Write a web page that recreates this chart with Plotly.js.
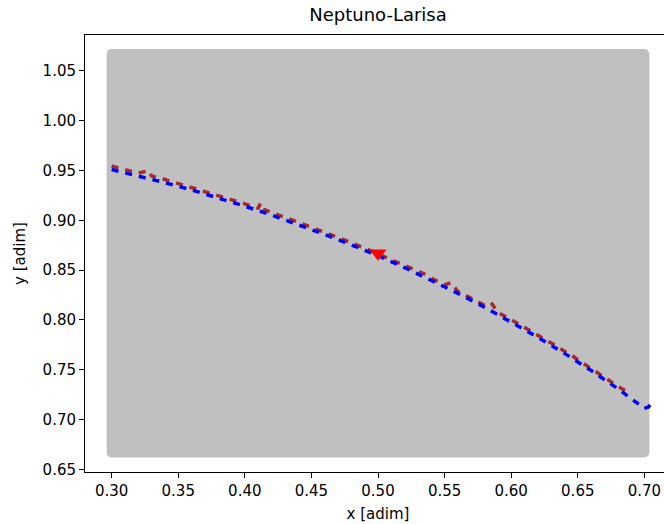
<!DOCTYPE html>
<html>
<head>
<meta charset="utf-8">
<script src="https://cdn.plot.ly/plotly-3.0.1.min.js"></script>
<style>
  html, body { margin: 0; padding: 0; overflow: hidden; background: #fff; }
  #chart { width: 680px; height: 524px; }
  /* rounded joins so the filled region gets soft corners */
  .scatterlayer path.js-line { stroke-linejoin: round; }
</style>
</head>
<body>
<div id="chart"></div>
<script>
// Search region (sampled grid bounds); outline starts mid-edge so every corner is a join
const regionX = [0.50, 0.70, 0.70, 0.30, 0.30, 0.50];
const regionY = [0.667, 0.667, 1.067, 1.067, 0.667, 0.667];

// Blue trajectory
const blueX = [0.300, 0.320, 0.340, 0.360, 0.380, 0.400, 0.420, 0.440, 0.460, 0.480,
               0.500, 0.520, 0.540, 0.560, 0.580, 0.600, 0.620, 0.640, 0.660, 0.680,
               0.690, 0.697, 0.700, 0.703, 0.705];
const blueY = [0.9510, 0.9447, 0.9378, 0.9305, 0.9226, 0.9142, 0.9053, 0.8958, 0.8858, 0.8753,
               0.8645, 0.8525, 0.8400, 0.8267, 0.8128, 0.7980, 0.7826, 0.7664, 0.7493, 0.7310,
               0.7215, 0.7140, 0.7112, 0.7125, 0.7160];

// Brown trajectory
const brownX = [0.300, 0.310, 0.320, 0.328, 0.330, 0.340, 0.350, 0.360, 0.370, 0.380,
                0.390, 0.400, 0.410, 0.412, 0.415, 0.420, 0.430, 0.440, 0.450, 0.460,
                0.470, 0.475, 0.480, 0.490, 0.500, 0.510, 0.520, 0.530, 0.535, 0.540,
                0.550, 0.555, 0.560, 0.570, 0.580, 0.585, 0.590, 0.600, 0.610, 0.620,
                0.630, 0.640, 0.645, 0.650, 0.655, 0.660, 0.670, 0.680, 0.688];
const brownY = [0.9545, 0.9510, 0.9475, 0.9500, 0.9445, 0.9410, 0.9370, 0.9330, 0.9290, 0.9252,
                0.9210, 0.9166, 0.9122, 0.9175, 0.9105, 0.9078, 0.9030, 0.8982, 0.8932, 0.8880,
                0.8828, 0.8805, 0.8775, 0.8720, 0.8662, 0.8605, 0.8545, 0.8482, 0.8460, 0.8418,
                0.8352, 0.8375, 0.8286, 0.8218, 0.8148, 0.8172, 0.8075, 0.8002, 0.7926, 0.7848,
                0.7768, 0.7686, 0.7650, 0.7600, 0.7555, 0.7515, 0.7420, 0.7335, 0.7272];

// Reference point
const markX = [0.50];
const markY = [0.867];

// Tick labels
const xTickVals = [0.30, 0.35, 0.40, 0.45, 0.50, 0.55, 0.60, 0.65, 0.70];
const xTickText = ['0.30', '0.35', '0.40', '0.45', '0.50', '0.55', '0.60', '0.65', '0.70'];
const yTickVals = [0.65, 0.70, 0.75, 0.80, 0.85, 0.90, 0.95, 1.00, 1.05];
const yTickText = ['0.65', '0.70', '0.75', '0.80', '0.85', '0.90', '0.95', '1.00', '1.05'];

const FONT = 'DejaVu Sans, sans-serif';

const traces = [
  {
    x: regionX, y: regionY, type: 'scatter', mode: 'lines',
    fill: 'toself', fillcolor: '#c0c0c0',
    line: { color: '#c0c0c0', width: 10 },
    hoverinfo: 'skip', showlegend: false
  },
  {
    x: brownX, y: brownY, type: 'scatter', mode: 'lines',
    line: { color: '#a52a2a', width: 3.5, dash: '7px,7px' },
    showlegend: false
  },
  {
    x: blueX, y: blueY, type: 'scatter', mode: 'lines',
    line: { color: '#0000ff', width: 3.5, dash: '7px,7px' },
    showlegend: false
  },
  {
    x: markX, y: markY, type: 'scatter', mode: 'markers',
    marker: { symbol: 'triangle-down', color: '#ff0000', size: 15, line: { width: 0 } },
    showlegend: false
  }
];

const axisCommon = {
  showgrid: false, zeroline: false,
  showline: true, linecolor: '#000', linewidth: 1, mirror: true,
  ticks: 'outside', ticklen: 5, tickwidth: 1, tickcolor: '#000',
  tickfont: { family: FONT, size: 15, color: '#000' }
};

const layout = {
  width: 680, height: 524,
  margin: { l: 85, r: 9, t: 35, b: 52 },
  paper_bgcolor: '#fff', plot_bgcolor: '#fff',
  title: {
    text: 'Neptuno-Larisa',
    font: { family: FONT, size: 18, color: '#000' },
    xref: 'paper', x: 0.5, xanchor: 'center',
    yref: 'container', y: 1 - 15 / 524, yanchor: 'middle'
  },
  xaxis: Object.assign({}, axisCommon, {
    range: [0.28, 0.72],
    tickvals: xTickVals, ticktext: xTickText,
    title: { text: 'x [adim]', font: { family: FONT, size: 15, color: '#000' }, standoff: 9 }
  }),
  yaxis: Object.assign({}, axisCommon, {
    range: [0.6473, 1.0861],
    tickvals: yTickVals, ticktext: yTickText,
    title: { text: 'y [adim]', font: { family: FONT, size: 15, color: '#000' }, standoff: 13 }
  }),
  showlegend: false
};

Plotly.newPlot('chart', traces, layout, { staticPlot: true, displayModeBar: false });
</script>
</body>
</html>
